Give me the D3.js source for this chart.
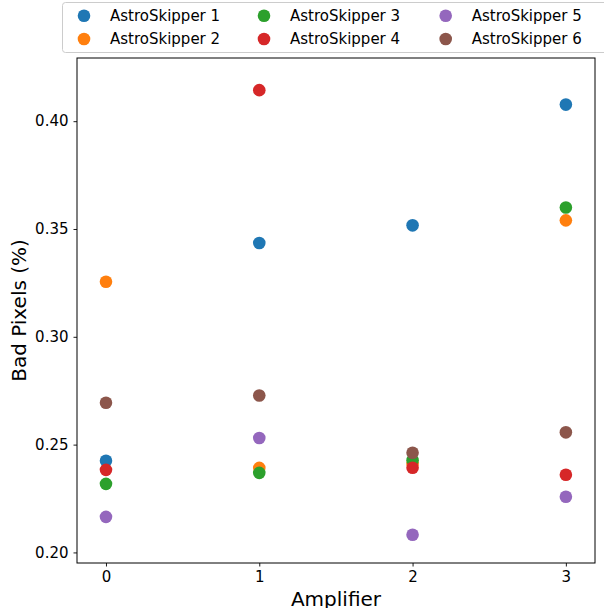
<!DOCTYPE html>
<html>
<head>
<meta charset="utf-8">
<script src="https://cdn.jsdelivr.net/npm/d3@7"></script>
<style>
  body { margin: 0; background: #fff; }
  svg { display: block; font-family: "DejaVu Sans", sans-serif; }
</style>
</head>
<body>
<div id="chart"></div>
<script>
// amplifier index on x, bad pixel percentage on y
const amplifiers = [0, 1, 2, 3];
const seriesNames = ["AstroSkipper 1", "AstroSkipper 2", "AstroSkipper 3",
                     "AstroSkipper 4", "AstroSkipper 5", "AstroSkipper 6"];
const colors = ["#1f77b4", "#ff7f0e", "#2ca02c", "#d62728", "#9467bd", "#8c564b"];
const skipper1 = [0.2425, 0.3435, 0.3517, 0.4077];
const skipper2 = [0.3255, 0.2392, 0.2410, 0.3540];
const skipper3 = [0.2318, 0.2369, 0.2428, 0.3600];
const skipper4 = [0.2383, 0.4144, 0.2393, 0.2360];
const skipper5 = [0.2165, 0.2531, 0.2082, 0.2258];
const skipper6 = [0.2694, 0.2728, 0.2462, 0.2557];
const yTicks = [0.20, 0.25, 0.30, 0.35, 0.40];

const allSeries = [skipper1, skipper2, skipper3, skipper4, skipper5, skipper6];

const width = 604, height = 608;
const margin = {top: 58, right: 9, bottom: 45, left: 77};

const svg = d3.select("#chart").append("svg")
    .attr("width", width)
    .attr("height", height);

const x = d3.scaleLinear()
    .domain([-0.189, 3.19])
    .range([margin.left, width - margin.right]);

const y = d3.scaleLinear()
    .domain([0.1951, 0.4293])
    .range([height - margin.bottom, margin.top]);

// points
allSeries.forEach((vals, i) => {
    svg.append("g")
        .selectAll("circle")
        .data(vals)
        .join("circle")
        .attr("cx", (d, j) => x(amplifiers[j]))
        .attr("cy", d => y(d))
        .attr("r", 6.3)
        .attr("fill", colors[i]);
});

// axes
const xAxis = svg.append("g")
    .attr("transform", `translate(0,${height - margin.bottom})`)
    .call(d3.axisBottom(x).tickValues(amplifiers).tickFormat(d3.format("d"))
          .tickSizeOuter(0).tickSize(3.5).tickPadding(5));

const yAxis = svg.append("g")
    .attr("transform", `translate(${margin.left},0)`)
    .call(d3.axisLeft(y).tickValues(yTicks).tickFormat(d3.format(".2f"))
          .tickSizeOuter(0).tickSize(3.5).tickPadding(5));

[xAxis, yAxis].forEach(a => {
    a.selectAll("text").attr("font-size", 15).attr("fill", "#000")
        .attr("font-family", "DejaVu Sans");
    a.selectAll("line").attr("stroke", "#000").attr("stroke-width", 0.9);
    a.select(".domain").remove();
});

// frame
svg.append("rect")
    .attr("x", margin.left)
    .attr("y", margin.top)
    .attr("width", width - margin.right - margin.left)
    .attr("height", height - margin.bottom - margin.top)
    .attr("fill", "none")
    .attr("stroke", "#000")
    .attr("stroke-width", 1);

// axis titles
svg.append("text")
    .attr("x", (margin.left + width - margin.right) / 2)
    .attr("y", 606)
    .attr("text-anchor", "middle")
    .attr("font-size", 20)
    .text("Amplifier");

svg.append("text")
    .attr("transform", `translate(26,${(margin.top + height - margin.bottom) / 2}) rotate(-90)`)
    .attr("text-anchor", "middle")
    .attr("font-size", 20)
    .text("Bad Pixels (%)");

// legend, three columns of two rows
const legend = svg.append("g");
legend.append("rect")
    .attr("x", 62.5)
    .attr("y", 2.5)
    .attr("width", 560)
    .attr("height", 50)
    .attr("rx", 3)
    .attr("fill", "#fff")
    .attr("fill-opacity", 0.8)
    .attr("stroke", "#ccc")
    .attr("stroke-width", 1);

const colX = [84, 264, 445.7];
const rowY = [15.7, 39];
seriesNames.forEach((name, i) => {
    const cx = colX[Math.floor(i / 2)], cy = rowY[i % 2];
    legend.append("circle")
        .attr("cx", cx).attr("cy", cy).attr("r", 6.3)
        .attr("fill", colors[i]);
    legend.append("text")
        .attr("x", cx + 26)
        .attr("y", cy)
        .attr("dy", "0.35em")
        .attr("font-size", 15)
        .text(name);
});
</script>
</body>
</html>
